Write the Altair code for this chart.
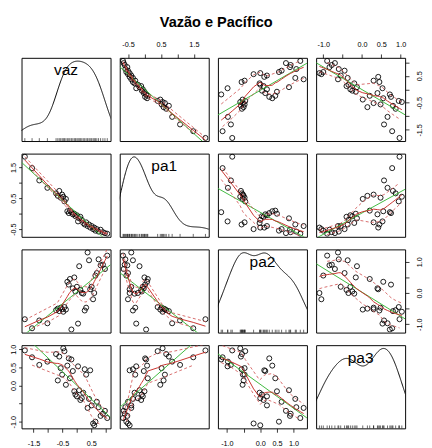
import numpy as np
import pandas as pd
import altair as alt

# ---------------- data ----------------
vaz = [-1.80, -1.55, -1.30, -1.02, -0.72, -0.66, -0.61, -0.56, -0.51, -0.47,
       -0.43, -0.38, -0.33, -0.28, -0.24, -0.19, -0.14, -0.09, -0.05, 0.00,
       0.04, 0.08, 0.12, 0.17, 0.22, 0.27, 0.32, 0.37, 0.42, 0.46,
       0.51, 0.56, 0.60, 0.64, 0.69, 0.75, 0.82, 0.90, 0.97, 1.05]
pa1 = [1.85, 1.48, 1.08, 0.84, 0.66, 0.58, 0.74, 0.52, 0.62, 0.55,
       0.40, 0.48, 0.08, 0.02, 0.10, 0.05, -0.02, 0.00, -0.08, -0.05,
       -0.25, -0.15, -0.10, -0.20, -0.30, -0.35, -0.28, -0.40, -0.35, -0.45,
       -0.40, -0.50, -0.45, -0.55, -0.50, -0.58, -0.52, -0.60, -0.63, -0.65]
pa2 = [-0.84, -1.13, -0.88, -0.97, -0.55, -0.50, -0.58, -0.47, -0.52, -0.60,
       -0.45, -0.53, 0.36, 0.27, 0.45, -1.17, 0.15, 0.50, 0.05, 0.20,
       -0.98, 0.86, 0.10, 0.00, -0.02, -0.56, -0.47, 1.30, 1.05, 0.12,
       0.20, -0.20, 0.00, 0.56, 0.64, 1.08, 0.89, 0.91, 0.77, 1.20]
pa3 = [0.97, 0.78, 0.57, 0.66, 0.87, 0.14, 0.80, 0.48, 0.30, 1.03,
       0.95, 0.02, 0.55, 0.75, 0.20, 0.72, 0.40, -0.16, -0.25, -0.30,
       0.53, -0.13, -0.40, -0.35, -0.20, 0.45, 0.30, -0.62, -0.37, 0.42,
       -0.55, -1.05, -1.10, -1.00, -0.45, -0.60, -0.84, -0.78, -0.70, -0.90]

var_names = ["vaz", "pa1", "pa2", "pa3"]
title_text = "Vazão e Pacífico"

tick_values = {
    "vaz": [-1.5, -1.0, -0.5, 0.0, 0.5, 1.0],
    "pa1": [-0.5, 0.0, 0.5, 1.0, 1.5],
    "pa2": [-1.0, -0.5, 0.0, 0.5, 1.0],
    "pa3": [-1.0, -0.5, 0.0, 0.5, 1.0],
}
labels_h = {"vaz": [-1.5, -0.5, 0.5], "pa1": [-0.5, 0.5, 1.5],
            "pa2": [-1.0, 0.0, 0.5, 1.0], "pa3": [-1.0, 0.0, 0.5, 1.0]}
labels_v = {"vaz": [-1.5, -0.5, 0.5], "pa1": [-0.5, 0.5, 1.5],
            "pa2": [-1.0, 0.0, 1.0], "pa3": [-1.0, 0.0, 0.5, 1.0]}

data = {"vaz": np.array(vaz), "pa1": np.array(pa1),
        "pa2": np.array(pa2), "pa3": np.array(pa3)}

# ---------------- styling ----------------
W, H = 92, 86
GREEN = "#3cb83c"
RED = "#c8302a"
RED_D = "#d25a5a"
FONT = "Liberation Sans"


def domain_of(v):
    a = data[v]
    r = a.max() - a.min()
    return [float(a.min() - 0.04 * r), float(a.max() + 0.04 * r)]


dom = {v: domain_of(v) for v in var_names}


def lab_expr(vals):
    cond = " || ".join(f"abs(datum.value - ({v})) < 1e-6" for v in vals)
    return f"({cond}) ? replace(format(datum.value, '.1f'), '\u2212', '-') : ''"


def loess_fit(x, y, span=0.5, degree=1, iterations=4):
    x = np.asarray(x, float)
    y = np.asarray(y, float)
    n = len(x)
    q = int(np.floor(n * span))
    q = max(q, 3 if degree > 0 else 2)
    q = min(q, n)
    rw = np.ones(n)
    fit = np.zeros(n)
    for _ in range(iterations):
        for i in range(n):
            d = np.abs(x - x[i])
            h = np.sort(d)[q - 1] * 1.0001
            if h <= 0:
                h = 1e-9
            u = np.clip(d / h, 0, 1)
            w = (1 - u ** 3) ** 3 * rw
            if w.sum() <= 0:
                w = (1 - u ** 3) ** 3
            if degree == 0:
                fit[i] = np.sum(w * y) / max(w.sum(), 1e-12)
            else:
                X = np.column_stack([np.ones(n), x - x[i]])
                sw = np.sqrt(w)
                beta, *_ = np.linalg.lstsq(X * sw[:, None], y * sw, rcond=None)
                fit[i] = beta[0]
        res = y - fit
        s = np.median(np.abs(res))
        if s <= 0:
            break
        uu = np.clip(res / (6 * s), -1, 1)
        rw = (1 - uu ** 2) ** 2
    return fit


def hx_axis(v, orient):
    top = orient == "top"
    return alt.Axis(orient=orient, values=tick_values[v], labelExpr=lab_expr(labels_h[v]),
                    tickSize=4, labelPadding=6 if top else 8, labelAngle=0,
                    labelAlign="center", labelBaseline="bottom" if top else "top",
                    labelFlush=False, labelOverlap=False, domain=False, grid=False)


def vy_axis(v, orient):
    left = orient == "left"
    return alt.Axis(orient=orient, values=tick_values[v], labelExpr=lab_expr(labels_v[v]),
                    tickSize=3 if left else 4, labelPadding=1.5 if left else 7,
                    labelAngle=-90, labelAlign="center",
                    labelBaseline="bottom" if left else "top",
                    labelFlush=False, labelOverlap=False, domain=False, grid=False)


def x_axis_for(i, j):
    if i == 0 and j in (1, 3):
        return hx_axis(var_names[j], "top")
    if i == 3 and j in (0, 2):
        return hx_axis(var_names[j], "bottom")
    return None


def y_axis_for(i, j):
    if j == 0 and i in (1, 3):
        return vy_axis(var_names[i], "left")
    if j == 3 and i in (0, 2):
        return vy_axis(var_names[i], "right")
    return None


def enc_x(field, v, axis):
    kw = dict(scale=alt.Scale(domain=dom[v], nice=False, zero=False), title=None)
    if axis is None:
        return alt.X(f"{field}:Q", axis=None, **kw)
    return alt.X(f"{field}:Q", axis=axis, **kw)


def enc_y(field, v, axis):
    kw = dict(scale=alt.Scale(domain=dom[v], nice=False, zero=False), title=None)
    if axis is None:
        return alt.Y(f"{field}:Q", axis=None, **kw)
    return alt.Y(f"{field}:Q", axis=axis, **kw)


def scatter_panel(i, j):
    xv, yv = var_names[j], var_names[i]
    xa, ya = x_axis_for(i, j), y_axis_for(i, j)
    x = data[xv]
    y = data[yv]
    df = pd.DataFrame({"x": x, "y": y})

    order = np.argsort(x, kind="mergesort")
    xs, ys = x[order], y[order]
    fit = loess_fit(xs, ys)
    res = ys - fit
    pos = res > 0
    pf = loess_fit(xs[pos], res[pos] ** 2, degree=0)
    nf = loess_fit(xs[~pos], res[~pos] ** 2, degree=0)
    sm_df = pd.DataFrame({"x": xs, "y": fit})
    up_df = pd.DataFrame({"x": xs[pos], "y": fit[pos] + np.sqrt(np.maximum(pf, 0))})
    lo_df = pd.DataFrame({"x": xs[~pos], "y": fit[~pos] - np.sqrt(np.maximum(nf, 0))})

    ex = enc_x("x", xv, xa)
    ey = enc_y("y", yv, ya)

    pts = alt.Chart(df).mark_point(shape="circle", filled=False, color="black",
                                   size=27, strokeWidth=0.9, opacity=1, clip=True).encode(x=ex, y=ey)
    reg = alt.Chart(df).transform_regression("x", "y", extent=dom[xv]).mark_line(
        color=GREEN, strokeWidth=1, clip=True).encode(x=ex, y=ey)
    sm = alt.Chart(sm_df).mark_line(color=RED, strokeWidth=1, clip=True).encode(x=ex, y=ey)
    up = alt.Chart(up_df).mark_line(color=RED_D, strokeWidth=0.9, strokeDash=[3, 2.5],
                                    clip=True).encode(x=ex, y=ey)
    lo = alt.Chart(lo_df).mark_line(color=RED_D, strokeWidth=0.9, strokeDash=[3, 2.5],
                                    clip=True).encode(x=ex, y=ey)
    return alt.layer(pts, reg, sm, up, lo).properties(width=W, height=H)


def diag_panel(k):
    v = var_names[k]
    a = data[v]
    n = len(a)
    sd = a.std(ddof=1)
    iqr = np.percentile(a, 75) - np.percentile(a, 25)
    bw = float(0.9 * min(sd, iqr / 1.34) * n ** -0.2)
    df = pd.DataFrame({"v": a})
    xs = alt.Scale(domain=dom[v], nice=False, zero=False)
    dens = alt.Chart(df).transform_density(
        "v", as_=["v", "density"], bandwidth=bw,
        extent=[float(a.min() - 3 * bw), float(a.max() + 3 * bw)], steps=400
    ).mark_line(color="black", strokeWidth=1, clip=True).encode(
        x=alt.X("v:Q", scale=xs, axis=None, title=None),
        y=alt.Y("density:Q", scale=alt.Scale(zero=False, nice=False, padding=3.4),
                axis=None, title=None))
    rug = alt.Chart(df).mark_rule(color="black", strokeWidth=0.6).encode(
        x=alt.X("v:Q", scale=xs, axis=None, title=None),
        y=alt.value(H), y2=alt.value(H - 3))
    lab = alt.Chart(pd.DataFrame({"t": [v]})).mark_text(
        font=FONT, fontSize=16, color="black", align="center", baseline="alphabetic"
    ).encode(text="t:N", x=alt.value(W / 2), y=alt.value(18))
    return alt.layer(dens, rug, lab).properties(width=W, height=H)


panels = []
for i in range(4):
    for j in range(4):
        panels.append(diag_panel(i) if i == j else scatter_panel(i, j))

chart = alt.concat(
    *panels, columns=4, spacing={"row": 13, "column": 9.5}, bounds="flush",
    title=alt.TitleParams(title_text, font=FONT, fontSize=15, fontWeight="bold",
                          anchor="middle", color="black", offset=10)
).resolve_scale(x="independent", y="independent").properties(
    padding={"left": 0, "top": 0, "right": 0, "bottom": 0}, background="white"
).configure_view(stroke="black", strokeWidth=1).configure_axis(
    labelFont=FONT, labelFontSize=7.5, labelColor="black", tickColor="black",
    tickWidth=0.8)

chart.save("out.html", embed_options={"renderer": "svg", "actions": False})
